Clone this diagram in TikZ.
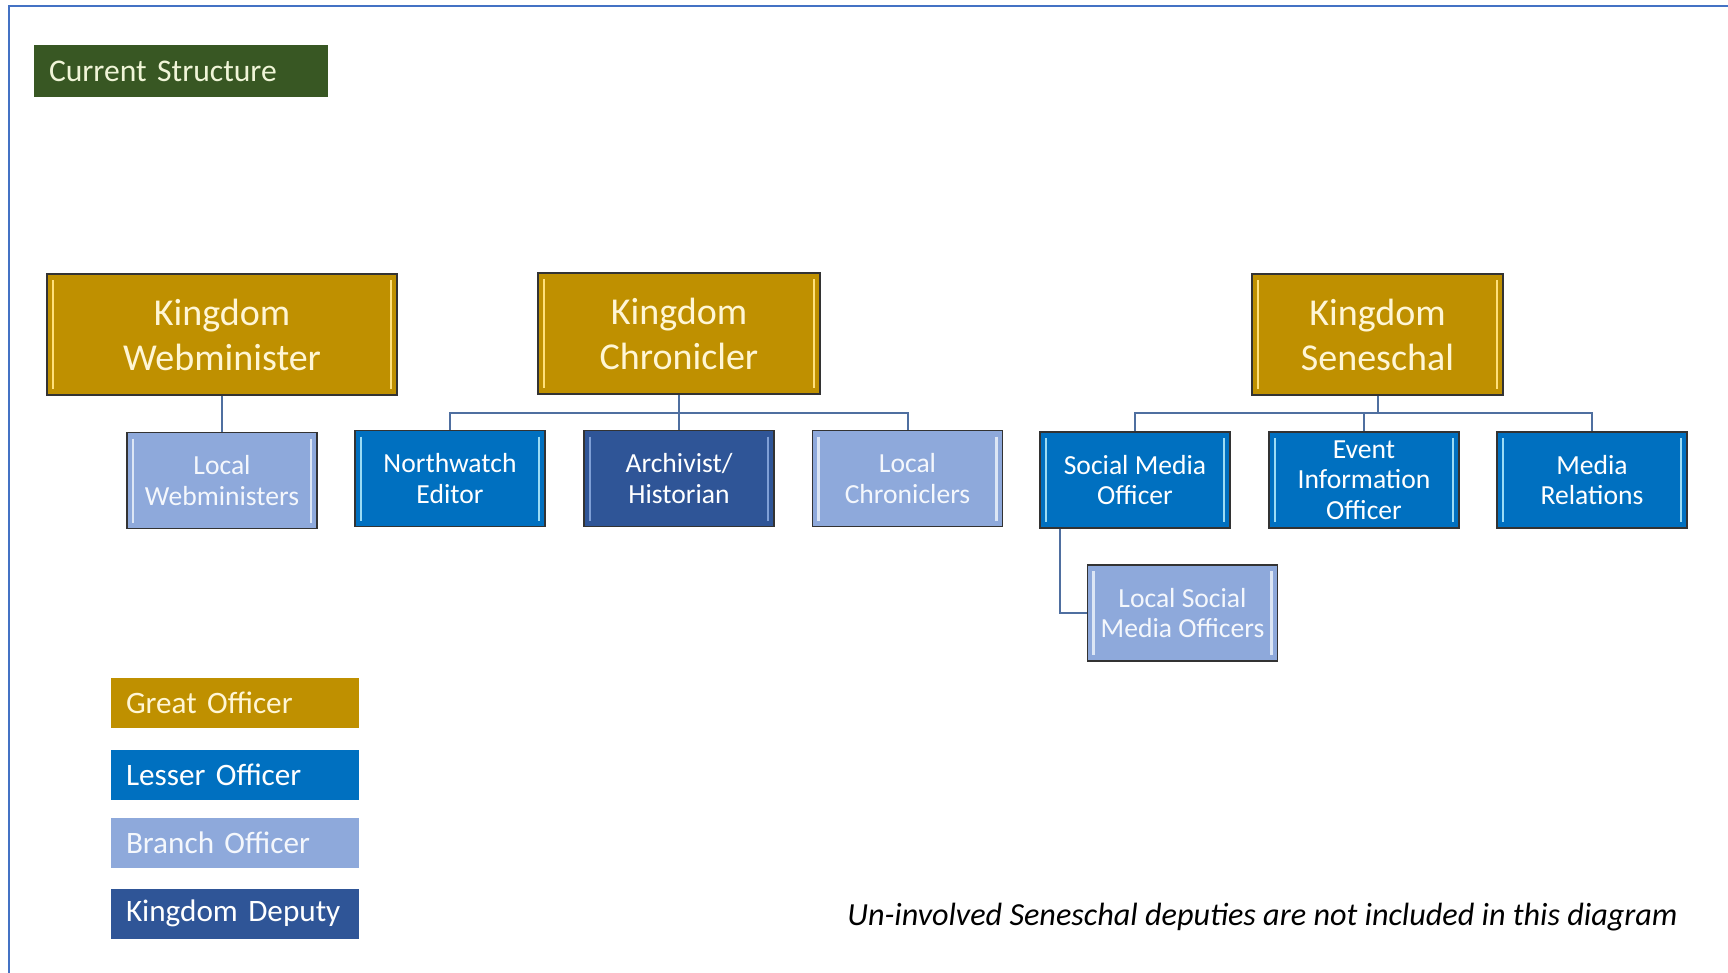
\documentclass[tikz,border=0pt]{standalone}
\usepackage{fontspec}
\setmainfont{Carlito}

\definecolor{gold}{HTML}{BF9000}
\definecolor{goldtxt}{HTML}{FFF6D5}
\definecolor{goldhi}{HTML}{FFE07A}
\definecolor{lesserblue}{HTML}{0070C0}
\definecolor{bluehi}{HTML}{9BDCF5}
\definecolor{branchblue}{HTML}{8EA9DB}
\definecolor{branchhi}{HTML}{DCE6F5}
\definecolor{branchtxt}{HTML}{F4F7FC}
\definecolor{deputyblue}{HTML}{2F5597}
\definecolor{deputyhi}{HTML}{7F9FD6}
\definecolor{headgreen}{HTML}{385723}
\definecolor{headtxt}{HTML}{F0F5D8}
\definecolor{linkblue}{HTML}{4F6FA0}
\definecolor{frameblue}{HTML}{4472C4}

\tikzset{
  box/.style={draw=black!80, line width=0.6pt, align=center, inner sep=0pt},
  bevel/.style={path picture={
      \draw[#1, line width=1.3pt]
        ([xshift=3pt,yshift=-3pt]path picture bounding box.north west) --
        ([xshift=3pt,yshift=3pt]path picture bounding box.south west)
        ([xshift=-3pt,yshift=-3pt]path picture bounding box.north east) --
        ([xshift=-3pt,yshift=3pt]path picture bounding box.south east);}},
  great/.style={box, bevel=goldhi, fill=gold, text=goldtxt, minimum height=60.5pt,
    font=\fontsize{19}{22.5}\selectfont},
  small/.style={box, minimum width=95pt, minimum height=48pt,
    font=\fontsize{13.8}{15.3}\selectfont},
  lesser/.style={small, bevel=bluehi, fill=lesserblue, text=white},
  branch/.style={small, bevel=branchhi, fill=branchblue, text=branchtxt},
  deputy/.style={small, bevel=deputyhi, fill=deputyblue, text=white},
  legend/.style={minimum height=25pt, text width=109pt, inner xsep=7.5pt, inner ysep=0pt,
    align=left, font=\fontsize{15.6}{18}\selectfont},
  link/.style={draw=linkblue, line width=1pt},
}

\begin{document}
\begin{tikzpicture}[x=0.5pt,y=-0.5pt]
    \useasboundingbox (0,0) rectangle (1728,973);
    % Marco
    \draw[frameblue, line width=1.2pt] (9,973) -- (9,6) -- (1728,6);
    % Título
    \node[fill=headgreen, text=headtxt, minimum height=26pt, text width=132pt,
      inner xsep=7.5pt, inner ysep=0pt, align=left, font=\fontsize{15.8}{18}\selectfont]
      (title) at (181,71) {Current Structure};
    % Oficiales mayores
    \node[great, minimum width=175pt] (webmin) at (222,334.5) {Kingdom\\Webminister};
    \node[great, minimum width=141pt] (chron) at (679,333.5) {Kingdom\\Chronicler};
    \node[great, minimum width=125.5pt] (sene) at (1377.5,334.5) {Kingdom\\Seneschal};
    % Subordinados
    \node[branch] (localweb) at (222,480.5) {Local\\Webministers};
    \node[lesser] (northwatch) at (450,478.5) {Northwatch\\Editor};
    \node[deputy] (archivist) at (679,478.5) {Archivist/\\Historian};
    \node[branch] (localchron) at (907.5,478.5) {Local\\Chroniclers};
    \node[lesser] (social) at (1135,480) {Social Media\\Officer};
    \node[lesser] (eventinfo) at (1364,480) {Event\\Information\\Officer};
    \node[lesser] (mediarel) at (1592,480) {Media\\Relations};
    \node[branch] (localsocial) at (1182.5,613) {Local Social\\Media Officers};
    % Líneas
    \coordinate (chronbus) at (679,413);
    \coordinate (senebus) at (1377.5,413);
    \draw[link] (webmin) -- (localweb);
    \draw[link] (chron) -- (archivist);
    \draw[link] (northwatch) |- (chronbus) -| (localchron);
    \draw[link] (sene) -- (senebus);
    \draw[link] (social) |- (senebus) -| (mediarel);
    \draw[link] (eventinfo) -- (eventinfo |- senebus);
    \draw[link] ([xshift=10.5pt]social.south west) |- (localsocial);
    % Leyenda
    \node[legend, fill=gold, text=goldtxt] (lgreat) at (235,703) {Great Officer};
    \node[legend, fill=lesserblue, text=white] (llesser) at (235,774.5) {Lesser Officer};
    \node[legend, fill=branchblue, text=branchtxt] (lbranch) at (235,843) {Branch Officer};
    \node[legend, fill=deputyblue, text=white] (ldeputy) at (235,913.5) {Kingdom Deputy};
    % Nota
    \node[anchor=east, inner sep=0pt, font=\fontsize{16.1}{19}\selectfont\itshape] (note)
      at (1678,917) {Un-involved Seneschal deputies are not included in this diagram};
\end{tikzpicture}
\end{document}
